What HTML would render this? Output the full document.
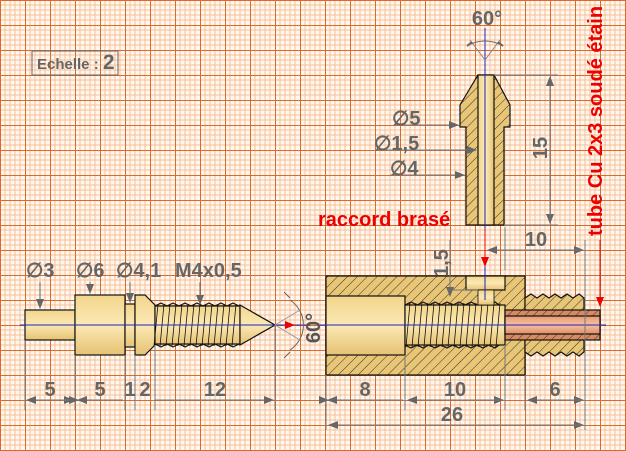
<!DOCTYPE html>
<html><head><meta charset="utf-8"><style>
html,body{margin:0;padding:0;background:#fff8f0}
svg{display:block}
text{font-family:"Liberation Sans",Arial,sans-serif;font-weight:bold}
</style></head><body>
<svg width="626" height="451" viewBox="0 0 626 451" xmlns="http://www.w3.org/2000/svg">
<defs>
<pattern id="g" width="25" height="25" patternUnits="userSpaceOnUse">
<rect width="25" height="25" fill="#fff7ee"/>
<path d="M5 0V25M10 0V25M15 0V25M20 0V25M0 5H25M0 10H25M0 15H25M0 20H25" stroke="#f5bf98" stroke-width="1"/>
<path d="M0.5 0V25M0 0.5H25" stroke="#dc6a28" stroke-width="1"/>
</pattern>
<pattern id="h" width="7" height="7" patternUnits="userSpaceOnUse" patternTransform="rotate(45)">
<rect width="7" height="7" fill="#e9c676"/>
<line x1="0" y1="0" x2="0" y2="7" stroke="#333" stroke-width="1"/>
</pattern>
<pattern id="hc" width="6" height="6" patternUnits="userSpaceOnUse" patternTransform="rotate(45)">
<rect width="6" height="6" fill="#d98a60"/>
<line x1="0" y1="0" x2="0" y2="6" stroke="#333" stroke-width="1"/>
</pattern>
<linearGradient id="gold" x1="0" y1="0" x2="0" y2="1">
<stop offset="0" stop-color="#f2d58c"/><stop offset="0.5" stop-color="#fbe9b4"/><stop offset="1" stop-color="#e6c273"/></linearGradient>
<linearGradient id="goldv" x1="0" y1="0" x2="1" y2="0">
<stop offset="0" stop-color="#f2d58c"/><stop offset="0.5" stop-color="#fbe9b4"/><stop offset="1" stop-color="#e6c273"/></linearGradient>
<linearGradient id="cu" x1="0" y1="0" x2="0" y2="1">
<stop offset="0" stop-color="#e59a72"/><stop offset="0.5" stop-color="#f6c1a0"/><stop offset="1" stop-color="#df8d66"/></linearGradient>
<marker id="a" markerWidth="10" markerHeight="8" refX="9" refY="4" orient="auto" markerUnits="userSpaceOnUse"><path d="M0 0L10 4L0 8Z" fill="#666"/></marker>
<marker id="r" markerWidth="10" markerHeight="8" refX="9" refY="4" orient="auto" markerUnits="userSpaceOnUse"><path d="M0 0L10 4L0 8Z" fill="#e00"/></marker>
</defs>
<rect width="626" height="451" fill="url(#g)"/>

<rect x="32" y="51" width="86" height="24" fill="none" stroke="#666" stroke-width="1"/>
<text x="37" y="69" font-size="15" fill="#666" font-weight="normal">Echelle : <tspan font-size="21">2</tspan></text>

<!-- LEFT PART -->
<g stroke="#111" stroke-width="1.2">
<rect x="25" y="310" width="50" height="30" fill="url(#gold)"/>
<rect x="75" y="295" width="50" height="60" fill="url(#gold)"/>
<rect x="125" y="304" width="10" height="43" fill="url(#gold)"/>
<path d="M135 295H145L155 305V345L145 355H135Z" fill="url(#gold)"/>
<rect x="155" y="306" width="85" height="38" fill="url(#gold)"/>
<path d="M155 306 l6 -3 l6 3 l6 -3 l6 3 l6 -3 l6 3 l6 -3 l6 3 l6 -3 l6 3 l6 -3 l6 3 l6 -3 l6 3 M155 344 l6 3 l6 -3 l6 3 l6 -3 l6 3 l6 -3 l6 3 l6 -3 l6 3 l6 -3 l6 3 l6 -3 l6 3 l6 -3" fill="none"/>
<path d="M158 304l-4 42M164 304l-4 42M170 304l-4 42M176 304l-4 42M182 304l-4 42M188 304l-4 42M194 304l-4 42M200 304l-4 42M206 304l-4 42M212 304l-4 42M218 304l-4 42M224 304l-4 42M230 304l-4 42M236 304l-4 42" stroke-width="0.8"/>
<path d="M240 305L275 325L240 345Z" fill="url(#gold)"/>
</g>
<line x1="20" y1="325" x2="310" y2="325" stroke="#2020c0" stroke-width="1"/>
<path d="M290 300A30 30 0 0 1 290 350" fill="none" stroke="#666"/>
<line x1="275" y1="325" x2="300" y2="310" stroke="#999"/><line x1="275" y1="325" x2="300" y2="340" stroke="#999"/>
<path d="M290 298l-6 -6M290 352l-6 6" stroke="#666"/>
<path d="M285 321L295 325L285 329Z" fill="#e00"/>
<text transform="translate(320,328) rotate(-90)" text-anchor="middle" font-size="20" fill="#555">60°</text>
<g fill="#666" font-size="20">
<text x="26" y="277">∅3</text><text x="76" y="277">∅6</text><text x="116" y="277">∅4,1</text><text x="175" y="277">M4x0,5</text>
</g>
<g stroke="#666" stroke-width="1">
<line x1="40" y1="282" x2="40" y2="308" marker-end="url(#a)"/>
<line x1="90" y1="282" x2="90" y2="293" marker-end="url(#a)"/>
<line x1="130" y1="282" x2="130" y2="302" marker-end="url(#a)"/>
<line x1="200" y1="282" x2="200" y2="304" marker-end="url(#a)"/>
</g>
<g stroke="#777" stroke-width="1">
<path d="M25 340V410M75 355V410M125 355V410M135 355V410M155 345V410M275 325V410"/>
<line x1="28" y1="400" x2="73" y2="400" marker-end="url(#a)"/><line x1="72" y1="400" x2="27" y2="400" marker-end="url(#a)"/>
<line x1="78" y1="400" x2="123" y2="400" marker-start="url(#a)"/><line x1="123" y1="400" x2="78" y2="400" marker-end="url(#a)"/>
<line x1="155" y1="400" x2="273" y2="400" marker-end="url(#a)"/>
</g>
<g fill="#666" font-size="20" text-anchor="middle">
<text x="50" y="396">5</text><text x="100" y="396">5</text><text x="130" y="396">1</text><text x="145" y="396">2</text><text x="215" y="396">12</text>
</g>

<!-- RIGHT BODY -->
<g stroke="#111" stroke-width="1.2">
<path d="M326 276H525V375H326Z" fill="url(#h)"/>
<path d="M525 298 l6 -4 l6 4 l6 -4 l6 4 l6 -4 l6 4 l6 -4 l6 4 l6 -4 l5 4 V352 l-5 4 l-6 -4 l-6 4 l-6 -4 l-6 4 l-6 -4 l-6 4 l-6 -4 l-6 4 l-6 -4 Z" fill="url(#h)"/>
<rect x="326" y="296" width="79" height="59" fill="url(#gold)"/>
<rect x="405" y="305" width="100" height="40" fill="url(#gold)"/>
<path d="M405 305 l6 -3 l6 3 l6 -3 l6 3 l6 -3 l6 3 l6 -3 l6 3 l6 -3 l6 3 l6 -3 l6 3 l6 -3 l6 3 l6 -3 l4 3 M405 345 l6 3 l6 -3 l6 3 l6 -3 l6 3 l6 -3 l6 3 l6 -3 l6 3 l6 -3 l6 3 l6 -3 l6 3 l6 -3 l6 3 l4 -3" fill="none"/>
<path d="M410 303l-4 44M416 303l-4 44M422 303l-4 44M428 303l-4 44M434 303l-4 44M440 303l-4 44M446 303l-4 44M452 303l-4 44M458 303l-4 44M464 303l-4 44M470 303l-4 44M476 303l-4 44M482 303l-4 44M488 303l-4 44M494 303l-4 44M500 303l-4 44" stroke-width="0.8"/>
<rect x="466" y="276" width="39" height="14" fill="url(#gold)"/>
<rect x="478" y="290" width="16" height="15" fill="url(#gold)" stroke-width="0.8"/>
<rect x="505" y="310" width="95" height="30" fill="url(#hc)"/>
<rect x="505" y="316" width="95" height="18" fill="url(#cu)"/>
</g>
<line x1="320" y1="325" x2="606" y2="325" stroke="#2020c0" stroke-width="1"/>
<line x1="485" y1="230" x2="485" y2="300" stroke="#2020c0" stroke-width="1"/>
<g stroke="#777" stroke-width="1">
<path d="M326 375V430M405 355V410M505 345V410M525 375V410M585 240V430"/>
<line x1="328" y1="400" x2="403" y2="400" marker-start="url(#a)"/><line x1="403" y1="400" x2="328" y2="400" marker-end="url(#a)"/>
<line x1="408" y1="400" x2="503" y2="400" marker-end="url(#a)"/><line x1="503" y1="400" x2="408" y2="400" marker-end="url(#a)"/>
<line x1="528" y1="400" x2="583" y2="400" marker-end="url(#a)"/><line x1="583" y1="400" x2="528" y2="400" marker-end="url(#a)"/>
<line x1="329" y1="425" x2="583" y2="425" marker-end="url(#a)"/><line x1="583" y1="425" x2="329" y2="425" marker-end="url(#a)"/>
<line x1="490" y1="250" x2="583" y2="250" marker-end="url(#a)"/><line x1="583" y1="250" x2="488" y2="250" marker-end="url(#a)"/>
<line x1="450" y1="240" x2="450" y2="296" marker-end="url(#a)"/>
<line x1="448" y1="290" x2="478" y2="290"/>
<line x1="505" y1="227" x2="505" y2="270"/>
</g>
<g fill="#666" font-size="20" text-anchor="middle">
<text x="365" y="396">8</text><text x="455" y="396">10</text><text x="555" y="396">6</text><text x="452" y="421">26</text><text x="536" y="246">10</text>
<text transform="translate(448,263) rotate(-90)">1,5</text>
</g>

<!-- TOP NOZZLE -->
<g stroke="#111" stroke-width="1.2">
<path d="M478 75H494L510 105V127H504V225H466V127H460V105Z" fill="url(#h)"/>
<rect x="478" y="75" width="16" height="150" fill="url(#goldv)"/>
</g>
<line x1="485" y1="28" x2="485" y2="232" stroke="#2020c0" stroke-width="1"/>
<line x1="485" y1="60" x2="470" y2="40" stroke="#888"/><line x1="485" y1="60" x2="500" y2="40" stroke="#888"/>
<path d="M467 46A35 35 0 0 1 503 46" fill="none" stroke="#666"/>
<path d="M467 46l5 -4M503 46l-5 -4" stroke="#666" stroke-width="2"/>
<text x="487" y="25" text-anchor="middle" font-size="20" fill="#666">60°</text>
<g stroke="#777" stroke-width="1">
<path d="M494 75H558M504 225H558"/>
<line x1="550" y1="80" x2="550" y2="223" marker-end="url(#a)"/><line x1="550" y1="220" x2="550" y2="77" marker-end="url(#a)"/>
<line x1="395" y1="125" x2="458" y2="125" marker-end="url(#a)"/>
<line x1="377" y1="150" x2="476" y2="150" marker-end="url(#a)"/>
<line x1="390" y1="175" x2="464" y2="175" marker-end="url(#a)"/>
</g>
<text transform="translate(547,148) rotate(-90)" text-anchor="middle" font-size="20" fill="#666">15</text>
<g fill="#666" font-size="20">
<text x="392" y="125">∅5</text><text x="374" y="150">∅1,5</text><text x="390" y="175">∅4</text>
</g>

<text x="318" y="226" font-size="20" fill="#e00">raccord brasé</text>
<line x1="485" y1="228" x2="485" y2="266" stroke="#e00" stroke-width="1" marker-end="url(#r)"/>
<text transform="translate(602,236) rotate(-90)" font-size="20" fill="#e00">tube Cu 2x3 soudé étain</text>
<line x1="600" y1="240" x2="600" y2="306" stroke="#e00" stroke-width="1" marker-end="url(#r)"/>
</svg>
</body></html>
